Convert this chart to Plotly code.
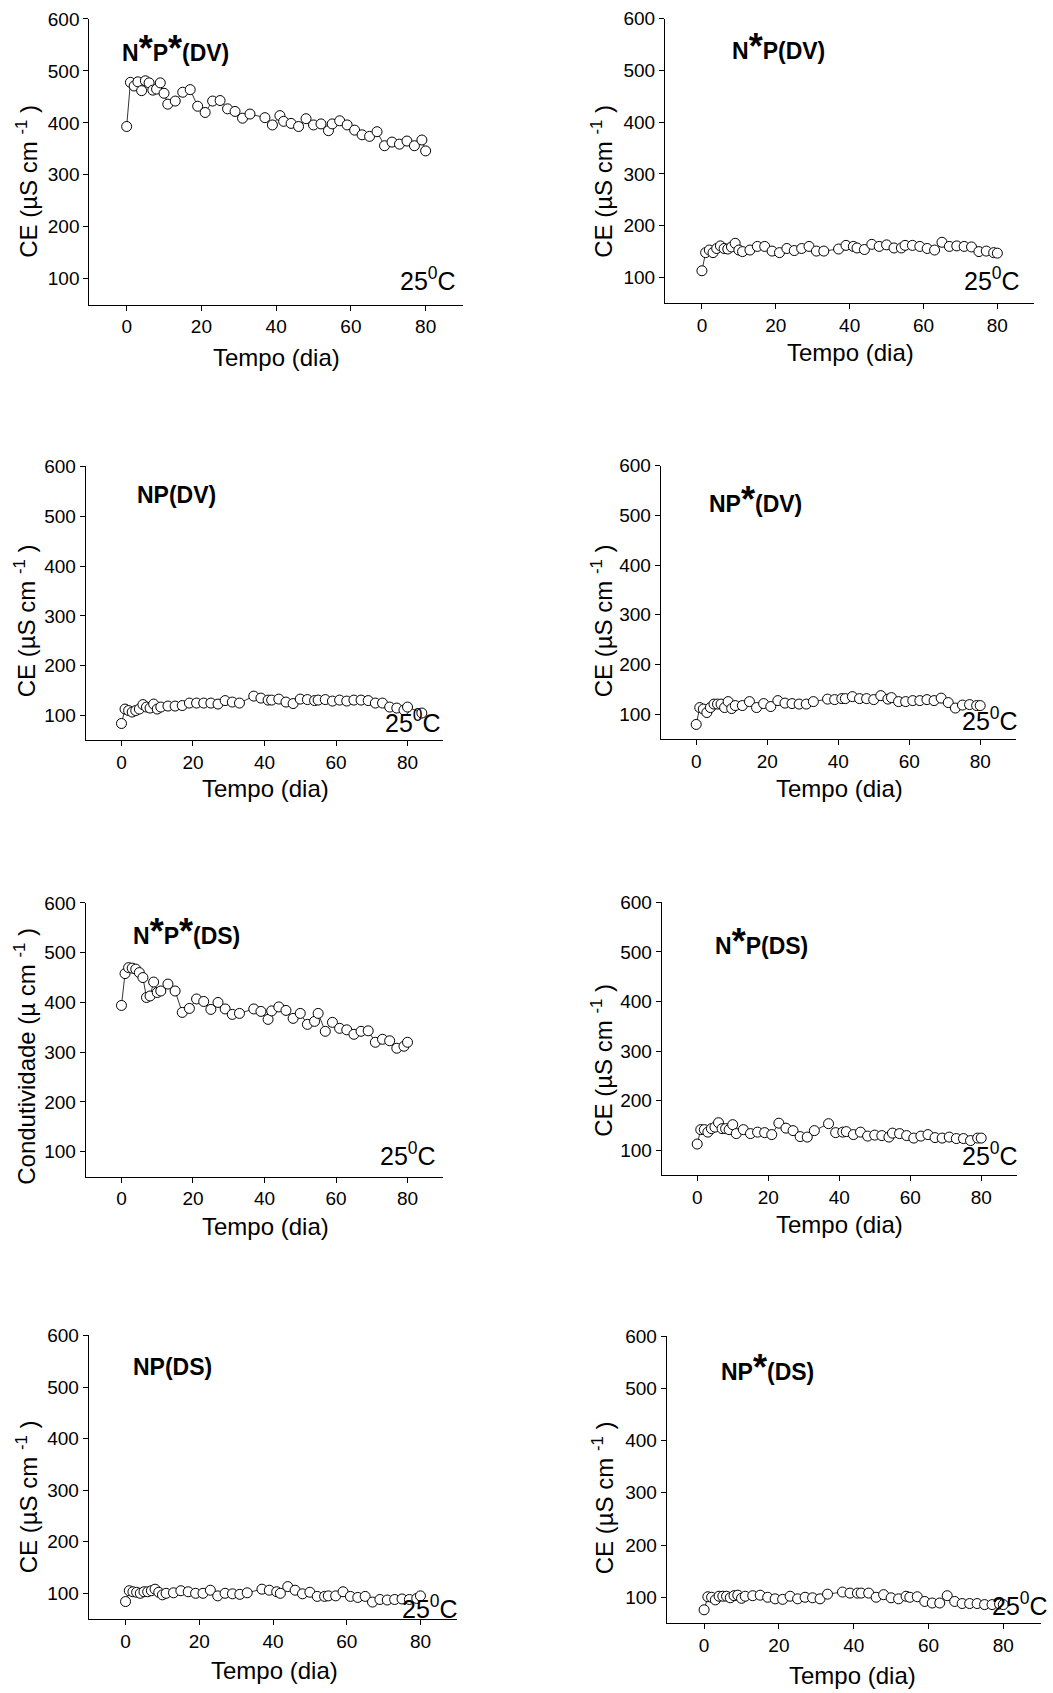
import plotly.graph_objects as go

W, H = 1053, 1693

# ---------------- data ----------------
days = [0, 1, 2, 3, 4, 5, 6, 7, 8, 9, 10, 11, 13, 15, 17, 19, 21, 23, 25, 27,
        29, 31, 33, 37, 39, 41, 42, 44, 46, 48, 50, 52, 54, 55, 57, 59, 61, 63,
        65, 67, 69, 71, 73, 75, 77, 79, 80]

np_dv_days = days + [84]

NsPs_DV = [393, 478, 471, 479, 462, 481, 477, 463, 465, 477, 457, 436, 442, 459,
           464, 432, 420, 442, 443, 427, 422, 409, 417, 410, 396, 414, 403, 399,
           393, 408, 396, 398, 385, 398, 404, 396, 386, 377, 374, 383, 356, 363,
           359, 365, 356, 367, 346]

NsP_DV = [113, 148, 153, 148, 156, 161, 156, 155, 159, 166, 153, 150, 153, 160,
          160, 151, 148, 156, 152, 156, 160, 151, 151, 155, 162, 160, 157, 154,
          164, 160, 163, 157, 157, 162, 162, 160, 156, 153, 168, 160, 161, 160,
          159, 150, 151, 148, 147]

NP_DV = [84, 113, 110, 107, 110, 113, 122, 117, 115, 123, 113, 117, 119, 119,
         120, 125, 125, 125, 125, 123, 130, 127, 125, 139, 135, 131, 131, 133,
         127, 124, 133, 132, 130, 131, 132, 129, 131, 129, 131, 131, 130, 125,
         125, 117, 115, 111, 117, 105]

NPs_DV = [79, 113, 110, 103, 113, 120, 120, 120, 113, 125, 111, 117, 117, 125,
          113, 121, 115, 127, 122, 121, 120, 120, 125, 130, 129, 131, 131, 135,
          131, 131, 129, 137, 130, 133, 125, 125, 127, 127, 129, 127, 132, 123,
          112, 118, 119, 117, 117]

NsPs_DS = [394, 458, 470, 469, 467, 460, 450, 410, 413, 441, 420, 423, 437, 423,
           380, 388, 407, 402, 386, 400, 387, 376, 378, 387, 382, 366, 383, 391,
           384, 368, 378, 356, 362, 378, 342, 360, 348, 345, 336, 342, 343, 320,
           326, 323, 308, 312, 320]

NsP_DS = [113, 142, 142, 137, 144, 147, 156, 144, 144, 142, 152, 134, 142, 134,
          137, 136, 132, 155, 145, 140, 128, 127, 140, 154, 136, 137, 138, 132,
          137, 129, 131, 130, 127, 135, 134, 130, 125, 129, 132, 126, 125, 127,
          124, 124, 120, 125, 125]

NP_DS = [84, 105, 103, 102, 100, 103, 103, 105, 108, 102, 97, 100, 101, 105,
         103, 100, 100, 106, 95, 100, 99, 98, 101, 108, 106, 103, 100, 113, 106,
         99, 102, 94, 94, 95, 95, 103, 94, 92, 94, 83, 88, 87, 88, 89, 88, 90, 95]

NPs_DS = [76, 101, 100, 95, 102, 102, 102, 99, 103, 104, 98, 102, 103, 104, 100,
          97, 96, 102, 97, 100, 99, 97, 106, 110, 108, 108, 108, 108, 100, 105,
          99, 97, 102, 100, 101, 92, 89, 89, 103, 92, 88, 88, 88, 86, 86, 87, 86]

x_ticks = [0, 20, 40, 60, 80]
y_ticks = [100, 200, 300, 400, 500, 600]

STAR = "<span style='font-size:36px'>*</span>"
titles = [
    "<b>N" + STAR + "P" + STAR + "(DV)</b>",
    "<b>N" + STAR + "P(DV)</b>",
    "<b>NP(DV)</b>",
    "<b>NP" + STAR + "(DV)</b>",
    "<b>N" + STAR + "P" + STAR + "(DS)</b>",
    "<b>N" + STAR + "P(DS)</b>",
    "<b>NP(DS)</b>",
    "<b>NP" + STAR + "(DS)</b>",
]
title_has_star = [True, True, False, True, True, True, False, True]
y_title_ce = "CE (µS cm <sup>-1</sup> )"
y_title_cond = "Condutividade (µ cm <sup>-1</sup> )"
x_title = "Tempo (dia)"
temp_label = "25<sup>0</sup>C"

series = [
    (days, NsPs_DV), (days, NsP_DV), (np_dv_days, NP_DV), (days, NPs_DV),
    (days, NsPs_DS), (days, NsP_DS), (days, NP_DS), (days, NPs_DS),
]
y_titles = [y_title_ce] * 4 + [y_title_cond] + [y_title_ce] * 3

# ---------------- layout (pixel geometry) ----------------
# The page renders the paper from ~8px down with ~1685px height,
# so convert wanted screen rows to paper fractions accordingly.
TOP_OFF, EFF_H = 8.0, 1685.0


def fy(py):
    return 1 - (py - TOP_OFF) / EFF_H


def fx(px):
    return px / W


# plot box: left, right, top, bottom (screen pixels)
boxes = [
    (89.3, 463.0, 17.0, 303.0),
    (665.0, 1034.3, 16.7, 301.7),
    (85.7, 443.3, 465.0, 739.3),
    (660.7, 1015.7, 464.3, 737.7),
    (85.7, 443.3, 902.0, 1176.0),
    (661.7, 1016.7, 901.3, 1174.7),
    (88.7, 457.3, 1335.0, 1619.0),
    (666.7, 1040.7, 1335.7, 1623.3),
]
# title: x centre, baseline
title_pos = [(175, 59), (778, 57), (176, 502), (755, 511),
             (186, 943), (761, 953), (172, 1375), (767, 1380)]
ytitle_pos = [(27, 180), (602, 180), (25, 620), (602, 620),
              (25, 1056), (602, 1060), (27, 1497), (603, 1498)]
xtitle_pos = [(276, 356), (850, 351), (265, 787), (839, 787),
              (265, 1226), (839, 1224), (274, 1670), (852, 1675)]
temp_pos = [(458, 277), (1022, 277), (443, 720), (1020, 718),
            (438, 1153), (1020, 1153), (460, 1607), (1050, 1604)]

FONT = "Liberation Sans, Arial, sans-serif"

fig = go.Figure()
annotations = []
layout_axes = {}

for i, ((xs, ys), (l, r, t, b)) in enumerate(zip(series, boxes)):
    n = i + 1
    xa = "x" if n == 1 else f"x{n}"
    ya = "y" if n == 1 else f"y{n}"
    fig.add_trace(go.Scatter(
        x=xs, y=ys, mode="lines+markers", xaxis=xa, yaxis=ya,
        line=dict(color="black", width=0.8),
        marker=dict(symbol="circle", size=10, color="white",
                    line=dict(color="black", width=1)),
        showlegend=False, cliponaxis=False,
    ))
    common = dict(showline=True, linecolor="black", linewidth=1,
                  ticks="outside", ticklen=5, tickwidth=1, tickcolor="black",
                  showgrid=False, zeroline=False,
                  tickfont=dict(family=FONT, size=19, color="black"))
    layout_axes["xaxis" if n == 1 else f"xaxis{n}"] = dict(
        domain=[fx(l), fx(r)], range=[-10, 90], tickvals=x_ticks,
        anchor=ya, **common)
    layout_axes["yaxis" if n == 1 else f"yaxis{n}"] = dict(
        domain=[fy(b), fy(t)], range=[50, 600], tickvals=y_ticks,
        anchor=xa, **common)

    tx, tb = title_pos[i]
    ty = tb - (12.5 if title_has_star[i] else 8.5)
    annotations.append(dict(text=titles[i], x=fx(tx), y=fy(ty),
                            xref="paper", yref="paper", showarrow=False,
                            xanchor="center", yanchor="middle",
                            font=dict(family=FONT, size=23, color="black")))
    yx, yy = ytitle_pos[i]
    annotations.append(dict(text=y_titles[i], x=fx(yx), y=fy(yy),
                            xref="paper", yref="paper", showarrow=False,
                            textangle=-90, xanchor="center", yanchor="middle",
                            font=dict(family=FONT, size=24, color="black")))
    xx, xy = xtitle_pos[i]
    annotations.append(dict(text=x_title, x=fx(xx), y=fy(xy),
                            xref="paper", yref="paper", showarrow=False,
                            xanchor="center", yanchor="middle",
                            font=dict(family=FONT, size=24, color="black")))
    px, py = temp_pos[i]
    annotations.append(dict(text=temp_label, x=fx(px), y=fy(py),
                            xref="paper", yref="paper", showarrow=False,
                            xanchor="right", yanchor="middle",
                            font=dict(family=FONT, size=25, color="black")))

fig.update_layout(
    width=W, height=H, margin=dict(l=0, r=0, t=0, b=0),
    paper_bgcolor="white", plot_bgcolor="white",
    annotations=annotations, **layout_axes,
)

fig.write_html("out.html")
